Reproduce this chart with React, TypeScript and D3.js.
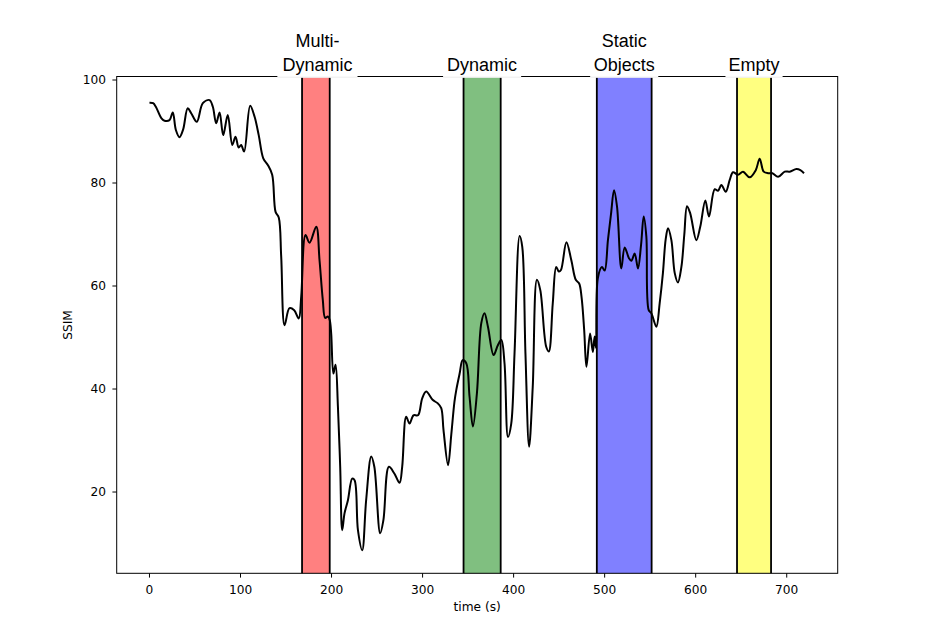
import React from "react";
import * as d3 from "d3";

const timeS: number[] = [
  0, 4, 7, 13, 16.5, 22, 25.6, 29, 33, 37, 42, 46, 52, 58.6, 66, 69.6, 73.3, 77, 81, 86,
  91, 94.5, 98, 100.7, 104, 110.6, 115.4, 120, 125, 130, 134.8, 138.5, 142, 144.7, 148.4,
  153.8, 159, 164, 166.7, 171.4, 175.8, 183.2, 186.8, 190.4, 193, 196, 198, 199.6, 202,
  204.4, 207, 209.5, 211.7, 214.3, 218, 222.7, 225.3, 229, 233.7, 238, 243.6, 247, 253.4,
  257, 263, 269, 274.7, 277.6, 282, 285.7, 290, 295, 299.6, 304, 311, 316.8, 320.5, 323,
  328, 331.5, 335, 337, 340.7, 344, 348, 351.6, 355.3, 359.7, 364.5, 368, 371.8, 378,
  382.7, 386.5, 390, 393.8, 397.4, 401, 406.6, 409.5, 413, 417, 421, 425.6, 429.3, 435.8,
  438.7, 443, 446.8, 449.7, 452, 458, 463.4, 468.3, 472, 474.6, 477.5, 480, 484, 487, 489,
  490.5, 492.5, 497, 500, 503.6, 507, 510.3, 513.6, 518.3, 522, 526.7, 529.3, 533, 536.6,
  540, 542.9, 545.8, 548.4, 551.3, 556.8, 560.4, 564, 567, 569.6, 573.3, 577, 580.5, 584.3,
  587.5, 590.5, 594, 600.7, 605, 610.6, 614.6, 620.9, 624.5, 628.2, 633, 637.4, 641, 646.5,
  652, 659.3, 666, 670.3, 674.7, 679.5, 684.3, 690.5, 697.8, 703.3, 710.6, 715, 719,
];

const ssim: number[] = [
  95.6, 95.5, 94.8, 92.6, 92.1, 92.2, 93.7, 90.3, 88.9, 90.4, 94.5, 93.5, 91.9, 95.5, 96.1,
  94.8, 91.6, 93.7, 89.3, 93.2, 87.4, 89, 86.9, 87.4, 86.1, 95.0, 92.9, 89.3, 84.8, 83.5,
  81.6, 74.4, 73.3, 65.7, 52.4, 55.7, 55.3, 53.7, 58, 69.9, 68.4, 71.5, 65, 57.3, 53.8,
  54.1, 53.4, 50.8, 43, 44.7, 36.6, 24.9, 12.6, 15.9, 18.4, 22.6, 22.3, 12.6, 8.7, 18.4,
  26.9, 24.9, 12, 14.6, 24.9, 23.6, 21.8, 24.9, 34.6, 33.3, 34.9, 34.9, 38.2, 39.5, 37.9,
  37.2, 36.3, 32, 25.2, 31.1, 37.5, 39.8, 43, 45.6, 45, 38.5, 32.7, 39.2, 52.8, 54.7, 52.1,
  46.6, 48.5, 49.5, 45, 30.7, 33.3, 46.9, 69.7, 67.6, 46.9, 28.8, 40.4, 61.2, 59.2, 48.2,
  47.3, 56.6, 63.7, 62.8, 63.1, 68.5, 65, 61.2, 60.5, 57.9, 51.5, 44.3, 50.8, 47.2, 50.2,
  48, 61.5, 63.7, 63, 68.9, 74, 78.6, 75.4, 63.4, 67.5, 65.4, 64.9, 66.3, 63.4, 68, 73.5,
  69.6, 55.3, 54.7, 52.1, 56.6, 62.5, 69, 71.2, 68.9, 62.5, 60.7, 63.7, 70, 75.5, 74.1,
  68.9, 71.5, 76.6, 73.5, 78.8, 78.5, 79.6, 78.3, 80.6, 82.1, 81.6, 82.2, 81.1, 82.5, 84.7,
  82.2, 81.9, 81.9, 81.2, 82.2, 82.2, 82.7, 82.5, 81.9,
];

const bandStart: number[] = [167.6, 345, 491.4, 645.4];
const bandEnd: number[] = [198, 385.8, 551.6, 682.8];
const bandColors: string[] = ["#ff8080", "#80bf80", "#8080ff", "#ffff80"];
const bandLabels: string[][] = [["Multi-", "Dynamic"], ["Dynamic"], ["Static", "Objects"], ["Empty"]];
const labelX: number[] = [184.5, 365.4, 521.5, 664.1];

const xTicks: number[] = [0, 100, 200, 300, 400, 500, 600, 700];
const yTicks: number[] = [20, 40, 60, 80, 100];

const W = 930;
const H = 644;
const L = 116.7;
const R = 837.7;
const T = 76.5;
const B = 573.3;
const BOX_W = [80, 78, 68, 57];

export default function App() {
  const x = d3.scaleLinear().domain([-36, 756]).range([L, R]);
  const y = d3.scaleLinear().domain([4.22, 100.68]).range([B, T]);
  const pts = timeS.map((t, i) => [t, ssim[i]] as [number, number]);
  const line = d3
    .line<[number, number]>()
    .x((d) => x(d[0]))
    .y((d) => y(d[1]))
    .curve(d3.curveCatmullRom.alpha(0.5));

  const tickFont = "DejaVu Sans";
  const labelFont = "Liberation Sans, Arial, Helvetica, sans-serif";
  const labelSize = 18;
  const lineGap = 24;
  const baseLast = 70.7;

  return (
    <svg
      width={W}
      height={H}
      style={{ position: "absolute", left: 0, top: 0, background: "#fff" }}
    >
      <rect x={0} y={0} width={W} height={H} fill="#fff" />
      {bandStart.map((s, i) => (
        <g key={"band" + i}>
          <rect x={x(s)} y={T} width={x(bandEnd[i]) - x(s)} height={B - T} fill={bandColors[i]} />
          <line x1={x(s)} x2={x(s)} y1={T} y2={B} stroke="#000" strokeWidth={1.8} />
          <line x1={x(bandEnd[i])} x2={x(bandEnd[i])} y1={T} y2={B} stroke="#000" strokeWidth={1.8} />
        </g>
      ))}
      <path d={line(pts) || ""} fill="none" stroke="#000" strokeWidth={2} strokeLinejoin="round" />
      <rect x={L} y={T} width={R - L} height={B - T} fill="none" stroke="#000" strokeWidth={1} />
      {xTicks.map((t) => (
        <g key={"xt" + t}>
          <line x1={x(t)} x2={x(t)} y1={B} y2={B + 4.3} stroke="#000" strokeWidth={1} />
          <text x={x(t)} y={594} textAnchor="middle" fontFamily={tickFont} fontSize={12.2} fill="#000">
            {t}
          </text>
        </g>
      ))}
      {yTicks.map((v) => (
        <g key={"yt" + v}>
          <line x1={L - 4.3} x2={L} y1={y(v)} y2={y(v)} stroke="#000" strokeWidth={1} />
          <text
            x={106}
            y={y(v)}
            dy="0.36em"
            textAnchor="end"
            fontFamily={tickFont}
            fontSize={12.2}
            fill="#000"
          >
            {v}
          </text>
        </g>
      ))}
      <text x={(L + R) / 2} y={611} textAnchor="middle" fontFamily={tickFont} fontSize={12.2} fill="#000">
        time (s)
      </text>
      <text
        transform={`translate(71.5,${(T + B) / 2}) rotate(-90)`}
        textAnchor="middle"
        fontFamily={tickFont}
        fontSize={12.2}
        fill="#000"
      >
        SSIM
      </text>
      {bandLabels.map((lines, i) => {
        const cx = x(labelX[i]);
        const boxW = BOX_W[i];
        const top = baseLast - (lines.length - 1) * lineGap - labelSize - 2;
        return (
          <g key={"lab" + i}>
            <rect x={cx - boxW / 2} y={top} width={boxW} height={77.6 - top} fill="#fff" />
            <line x1={cx - boxW / 2} x2={cx + boxW / 2} y1={77.2} y2={77.2} stroke="#ececec" strokeWidth={1} />
            {lines.map((s, j) => (
              <text
                key={j}
                x={cx}
                y={baseLast - (lines.length - 1 - j) * lineGap}
                textAnchor="middle"
                fontFamily={labelFont}
                fontSize={labelSize}
                fill="#000"
              >
                {s}
              </text>
            ))}
          </g>
        );
      })}
    </svg>
  );
}
